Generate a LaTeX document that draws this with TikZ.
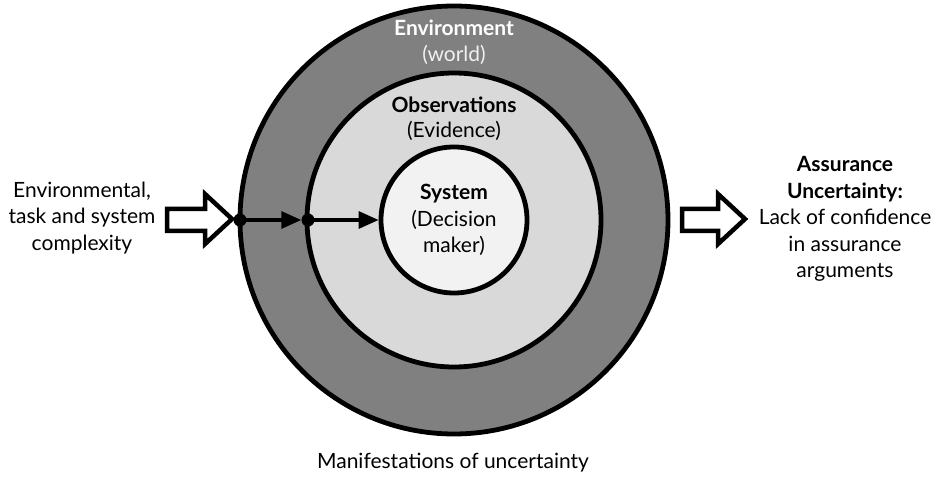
\documentclass[tikz,border=0pt]{standalone}
\usepackage{fontspec}
\setmainfont{Lato}
\usetikzlibrary{arrows.meta}
\begin{document}
\begin{tikzpicture}[x=1pt,y=-1pt,
  ring/.style={draw=black,line width=4.8pt},
  lbl/.style={font=\fontsize{21}{26.5}\selectfont,align=center,inner sep=0pt},
  dotnode/.style={circle,fill=black,inner sep=0pt,minimum size=13pt},
  flow/.style={line width=3.2pt,-{Triangle[length=20pt,width=17pt]}},
  blockarrow/.style={draw=black,fill=white,line width=4.5pt,line join=miter}]
\useasboundingbox (0,0) rectangle (935,478);
\coordinate (c) at (454,220);
\fill[black!50] (c) circle (214);
\draw[ring] (c) circle (214);
\fill[black!15] (c) circle (147);
\draw[ring] (c) circle (147);
\node[ring,circle,fill=black!5,minimum size=146pt,inner sep=0pt] (sys) at (c) {};
\node[lbl,text=white] (env) at (454,28) {\textbf{Environment}};
\node[lbl,text=black!6] (world) at (454,55) {(world)};
\node[lbl] (obs) at (454,105) {\textbf{Observations}};
\node[lbl] (evid) at (454,131) {(Evidence)};
\node[lbl] (systxt) at (454,220) {\textbf{System}\\(Decision\\maker)};
\node[dotnode] (d1) at (240,220) {};
\node[dotnode] (d2) at (308,220) {};
\draw[flow] (d1.center) -- (d2.west);
\draw[flow] (d2.center) -- (sys.west);
\draw[blockarrow] (167,209) -- (205,209) -- (205,194) -- (232,219) -- (205,244) -- (205,231) -- (167,231) -- cycle;
\draw[blockarrow] (682,209) -- (718,209) -- (718,194) -- (745,219) -- (718,244) -- (718,231) -- (682,231) -- cycle;
\node[lbl] (left) at (82,218) {Environmental,\\task and system\\complexity};
\node[lbl] (right) at (845,219) {\textbf{Assurance}\\\textbf{Uncertainty:}\\Lack of confidence\\in assurance\\arguments};
\node[lbl] (manif) at (453,463) {Manifestations of uncertainty};
\end{tikzpicture}
\end{document}
